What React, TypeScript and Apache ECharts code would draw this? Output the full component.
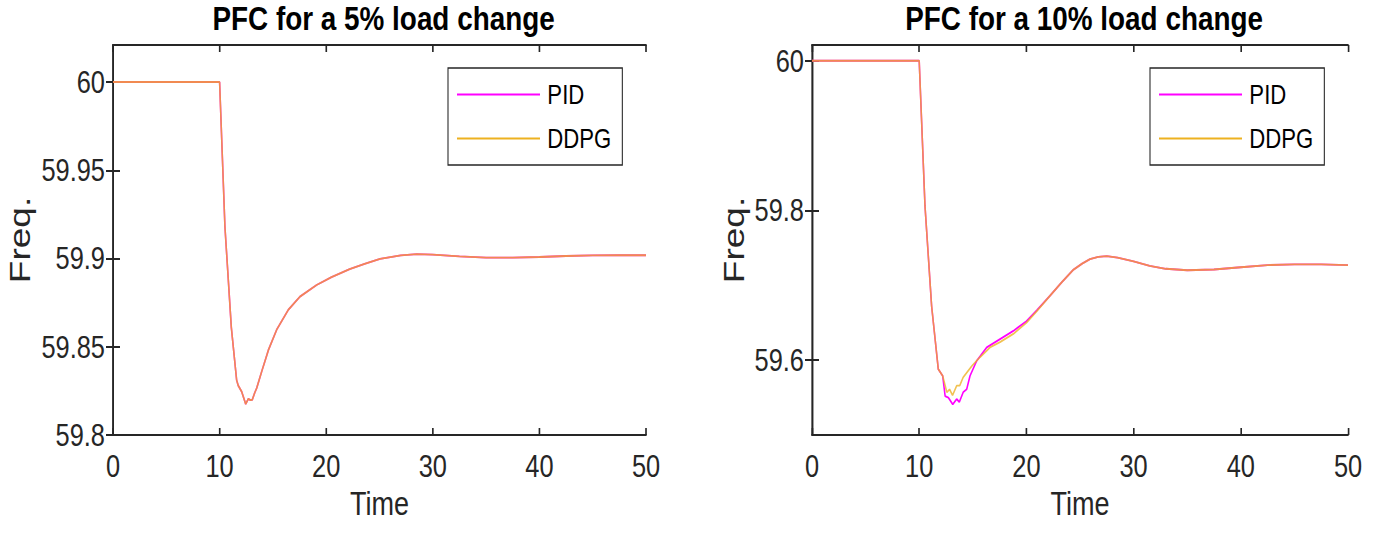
import React, { useEffect, useRef } from "react";
import * as echarts from "echarts";

const titles = ["PFC for a 5% load change", "PFC for a 10% load change"];
const seriesNames = ["PID", "DDPG"];
const xTicks = [0, 10, 20, 30, 40, 50];
const yTicks5 = [59.8, 59.85, 59.9, 59.95, 60];
const yTicks10 = [59.6, 59.8, 60];

// 5% load change
const time5 = [0, 10, 10.5, 11.1, 11.6, 11.75, 12.07, 12.45, 12.7, 12.9, 13.07, 13.3, 13.48, 13.95, 14.57, 15.35, 16.45, 17.54, 19.1, 20.5, 22.2, 23.6, 25.05, 27, 28.5, 30, 32.5, 35, 37.5, 40, 42.5, 45, 47.5, 50];
const pid5 = [60, 60, 59.918, 59.861, 59.831, 59.828, 59.8246, 59.8175, 59.8205, 59.8198, 59.82, 59.824, 59.8266, 59.836, 59.848, 59.8596, 59.871, 59.8784, 59.885, 59.8895, 59.894, 59.897, 59.8998, 59.9018, 59.9025, 59.9022, 59.9012, 59.9005, 59.9005, 59.9009, 59.9014, 59.9018, 59.9019, 59.9019];
const ddpg5 = [60, 60, 59.918, 59.861, 59.831, 59.828, 59.8246, 59.8175, 59.8205, 59.8198, 59.82, 59.824, 59.8266, 59.836, 59.848, 59.8596, 59.871, 59.8784, 59.885, 59.8895, 59.894, 59.897, 59.8998, 59.9018, 59.9025, 59.9022, 59.9012, 59.9005, 59.9005, 59.9009, 59.9014, 59.9018, 59.9019, 59.9019];

// 10% load change
const timePid10 = [0, 10, 10.54, 11.16, 11.78, 12.19, 12.42, 12.72, 13.13, 13.49, 13.74, 14.1, 14.43, 14.74, 15.36, 16.3, 17.54, 18.78, 20, 21, 22.2, 23.3, 24.4, 25.2, 25.93, 26.7, 27.5, 28.5, 30, 31.5, 33, 35, 37.5, 40, 42.5, 45, 47.5, 50];
const pid10 = [60, 60, 59.806, 59.672, 59.588, 59.579, 59.552, 59.55, 59.541, 59.548, 59.544, 59.557, 59.561, 59.579, 59.599, 59.617, 59.628, 59.639, 59.652, 59.667, 59.686, 59.704, 59.721, 59.729, 59.735, 59.738, 59.739, 59.737, 59.732, 59.726, 59.722, 59.72, 59.721, 59.724, 59.727, 59.728, 59.728, 59.727];
const timeDdpg10 = [0, 10, 10.54, 11.16, 11.78, 12.19, 12.58, 12.83, 13.11, 13.5, 13.78, 14.1, 14.9, 15.67, 16.6, 17.54, 18.78, 20, 21, 22.2, 23.3, 24.4, 25.2, 25.93, 26.7, 27.5, 28.5, 30, 31.5, 33, 35, 37.5, 40, 42.5, 45, 47.5, 50];
const ddpg10 = [60, 60, 59.806, 59.672, 59.588, 59.579, 59.557, 59.561, 59.553, 59.566, 59.566, 59.577, 59.592, 59.604, 59.617, 59.624, 59.635, 59.65, 59.666, 59.686, 59.704, 59.721, 59.729, 59.735, 59.738, 59.739, 59.737, 59.732, 59.726, 59.722, 59.72, 59.721, 59.724, 59.727, 59.728, 59.728, 59.727];

const FONT = "'Liberation Sans', Arial, sans-serif";
const INK = "#262626";
const PID_COLOR = "#ff00ff";
const DDPG_COLOR = "#edb120";

// The chart is laid out wider and compressed horizontally, to get narrow (Helvetica Narrow-like) text.
const PAGE_W = 1374;
const PAGE_H = 537;
const CHART_W = 1676;
const SX = PAGE_W / CHART_W;
const cx = (v: number) => v / SX;

const zip = (xs: number[], ys: number[]) => xs.map((x, i) => [x, ys[i]]);
const fmt = (v: number) => String(Number(v.toFixed(3)));

export default function App() {
  const ref = useRef<HTMLDivElement>(null);
  useEffect(() => {
    if (!ref.current) return;
    const chart = echarts.init(ref.current, undefined, { renderer: "svg" });
    const grids = [
      { left: cx(113), top: 45, width: cx(533), height: 390 },
      { left: cx(812), top: 45, width: cx(536), height: 390 },
    ];
    const yCfg = [
      { min: 59.8, max: 60.021, ticks: yTicks5, nameGap: 96 },
      { min: 59.5, max: 60.021, ticks: yTicks10, nameGap: 78 },
    ];
    const lineStyle = { color: INK, width: 2 };
    const tickStyle = { color: INK, width: 2 };
    const xAxis: any[] = [];
    const yAxis: any[] = [];
    grids.forEach((_, g) => {
      xAxis.push({
        type: "value", gridIndex: g, min: 0, max: 50, position: "bottom",
        axisLine: { show: true, lineStyle },
        axisTick: { show: true, inside: true, length: 7, lineStyle: tickStyle, customValues: xTicks },
        axisLabel: { show: true, customValues: xTicks, fontSize: 31, fontFamily: FONT, color: INK, margin: 16, formatter: (v: number) => fmt(v) },
        splitLine: { show: false },
        name: "Time", nameLocation: "middle", nameGap: 43,
        nameTextStyle: { fontSize: 33, fontFamily: FONT, color: INK },
      });
      xAxis.push({
        type: "value", gridIndex: g, min: 0, max: 50, position: "top",
        axisLine: { show: true, lineStyle },
        axisTick: { show: true, inside: true, length: 7, lineStyle: tickStyle, customValues: xTicks },
        axisLabel: { show: false },
        splitLine: { show: false },
      });
      const yc = yCfg[g];
      yAxis.push({
        type: "value", gridIndex: g, min: yc.min, max: yc.max, position: "left",
        axisLine: { show: true, lineStyle },
        axisTick: { show: true, inside: true, length: cx(7), lineStyle: tickStyle, customValues: yc.ticks },
        axisLabel: { show: true, customValues: yc.ticks, fontSize: 31, fontFamily: FONT, color: INK, margin: cx(8), formatter: (v: number) => fmt(v) },
        splitLine: { show: false },
        name: "Freq.", nameLocation: "middle", nameGap: yc.nameGap, nameRotate: 90,
        nameTextStyle: { fontSize: 37, fontFamily: FONT, color: INK },
      });
      yAxis.push({
        type: "value", gridIndex: g, min: yc.min, max: yc.max, position: "right",
        axisLine: { show: true, lineStyle },
        axisTick: { show: true, inside: true, length: cx(7), lineStyle: tickStyle, customValues: yc.ticks },
        axisLabel: { show: false },
        splitLine: { show: false },
      });
    });

    const mkSeries = (name: string, data: number[][], g: number, color: string, opacity: number) => ({
      type: "line", name, data, xAxisIndex: g * 2, yAxisIndex: g * 2,
      symbol: "none", showSymbol: false, smooth: false,
      lineStyle: { color, width: 1.9, opacity },
      itemStyle: { color },
    });

    const legendBase = (left: number) => ({
      orient: "vertical", left, top: 68,
      data: seriesNames,
      icon: "rect",
      backgroundColor: "#ffffff",
      borderColor: INK, borderWidth: 1.3, borderRadius: 0,
      padding: [13, cx(11), 13, cx(9)],
      itemWidth: cx(83), itemHeight: 2, itemGap: 17,
      textStyle: { fontSize: 27, fontFamily: FONT, color: "#000", lineHeight: 22, padding: [0, 0, 0, 4] },
      selectedMode: false,
    });

    chart.setOption({
      animation: false,
      backgroundColor: "#ffffff",
      title: titles.map((t, i) => ({
        text: t,
        left: grids[i].left + grids[i].width / 2,
        top: -3,
        textAlign: "center",
        textStyle: { fontSize: 34, fontWeight: "bold", fontFamily: FONT, color: "#000" },
      })),
      grid: grids.map((g) => ({ ...g, show: false, containLabel: false, outerBoundsMode: "none" })),
      legend: [legendBase(cx(448)), legendBase(cx(1150))],
      xAxis,
      yAxis,
      series: [
        mkSeries(seriesNames[0], zip(time5, pid5), 0, PID_COLOR, 1),
        mkSeries(seriesNames[1], zip(time5, ddpg5), 0, DDPG_COLOR, 0.78),
        mkSeries(seriesNames[0], zip(timePid10, pid10), 1, PID_COLOR, 1),
        mkSeries(seriesNames[1], zip(timeDdpg10, ddpg10), 1, DDPG_COLOR, 0.78),
      ],
    });
    return () => chart.dispose();
  }, []);
  return (
    <div style={{ position: "absolute", left: 0, top: 0, width: PAGE_W, height: PAGE_H, overflow: "hidden", background: "#fff" }}>
      <div
        ref={ref}
        style={{ width: CHART_W, height: PAGE_H, transform: `scaleX(${SX})`, transformOrigin: "0 0" }}
      />
    </div>
  );
}
